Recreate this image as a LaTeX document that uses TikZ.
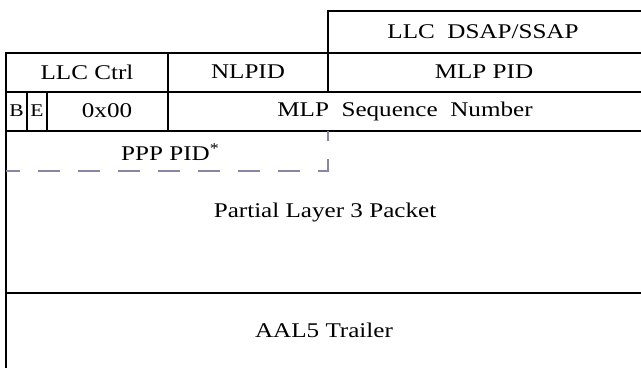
\documentclass[tikz,border=0pt]{standalone}
\usepackage{fontspec}
\setmainfont{Liberation Serif}[FakeStretch=1.2]
\usetikzlibrary{positioning}
\definecolor{dashgray}{RGB}{135,135,165}
\tikzset{
  rule/.style={line width=2bp, line cap=rect},
  pppline/.style={draw=dashgray, line width=1.5bp, dash pattern=on 22bp off 18bp, dash phase=8bp},
  field/.style={inner sep=0pt, font=\fontsize{21}{24}\selectfont},
  bitfield/.style={inner sep=0pt, font=\fontsize{18}{20}\selectfont}
}

\begin{document}
\begin{tikzpicture}[x=1bp,y=-1bp]
  \useasboundingbox (0,0) rectangle (641,367);

  %% field labels
  \node[field] (dsap)  at (483, 32)  {LLC\ \ DSAP/SSAP};
  \node[field] (ctrl)  at (87, 72)   {LLC Ctrl};
  \node[field] (nlpid) at (248, 72)  {NLPID};
  \node[field] (mlpid) at (484, 72)  {MLP PID};
  \node[bitfield] (bbit) at (16.5, 111) {B};
  \node[bitfield] (ebit) at (37, 111)  {E};
  \node[field] (zero)  at (107, 111) {0x00};
  \node[field] (seq)   at (405, 111) {MLP\ \ Sequence\ \ Number};
  \node[field] (ppp)   at (170, 152) {PPP PID\raisebox{0.3em}{\fontsize{15}{16}\selectfont *}};
  \node[field] (part)  at (325, 212) {Partial Layer 3 Packet};
  \node[field] (aal)   at (324, 330) {AAL5 Trailer};

  %% borders
  \draw[rule] (641,11) -- (328,11) -- (328,92);
  \draw[rule] (641,53) -- (6,53) -- (6,367);
  \draw[rule] (168,53) -- (168,131);
  \draw[rule] (6,92) -- (641,92);
  \draw[rule] (27,92) -- (27,131);
  \draw[rule] (47,92) -- (47,131);
  \draw[rule] (6,131) -- (641,131);
  \draw[rule] (6,293) -- (641,293);

  %% optional PPP PID
  \draw[pppline] (6,171) -- (328,171) -- (328,131);

\end{tikzpicture}
\end{document}
